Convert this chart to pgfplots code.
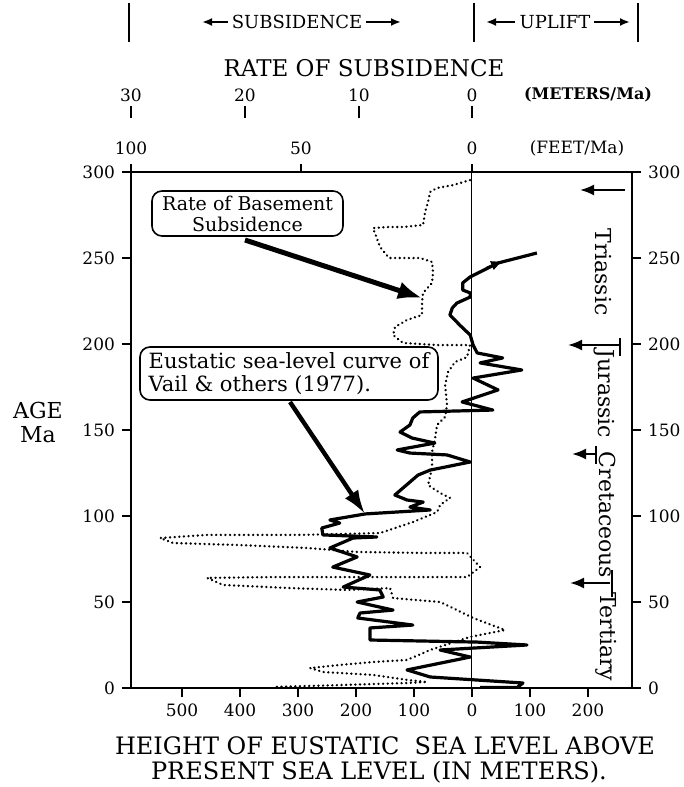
\documentclass[border=0pt]{standalone}
\usepackage{fontspec}
\setmainfont{DejaVu Serif}
\usepackage{pgfplots}
\pgfplotsset{compat=1.18}
\usetikzlibrary{arrows.meta}

\begin{document}
\begin{tikzpicture}
\path[use as bounding box] (-65.5pt,-49.5pt) rectangle (276.5pt,344pt);

% sea level (bottom scale, metres; left = above present)
\begin{axis}[
  width=250.5pt, height=258pt, scale only axis,
  xmin=-276, xmax=588, x dir=reverse,
  ymin=0, ymax=300,
  xtick={-200,-100,...,500},
  xticklabels={200,100,0,100,200,300,400,500},
  ytick={0,50,...,300},
  xtick pos=bottom, ytick pos=left,
  tick align=outside,
  major tick length=4.5pt,
  every tick/.style={black, line width=1pt},
  axis line style={line width=1.1pt},
  ticklabel style={font=\fontsize{8.5}{10}\selectfont},
  /pgf/number format/assume math mode=true,
]
\addplot[black, line width=0.5pt] coordinates {(0,0) (0,300)};
% Vail et al. (1977) curve
\addplot[black, line width=1.6pt, line join=round] coordinates {
(-112,252.9) (-45,247.1) (-17,242.4) (3,239.0) (16,235.5) (16,231.4)
(3,229.7) (3,227.3) (26,223.8) (34,220.9) (38,216.9) (21,211.0)
(3,205.2) (-2,199.4) (-9,194.8) (-53,191.9) (-14,189.0) (-86,184.9)
(-2,180.2) (-45,173.3) (17,166.3) (-36,161.6) (90,160.5) (102,157.0)
(107,152.9) (124,148.8) (103,145.3) (64,142.4) (129,138.4) (107,136.6)
(43,135.5) (3,131.4) (72,126.7) (93,123.8) (133,112.2) (112,109.3)
(84,108.1) (107,105.2) (72,103.5) (184,101.2) (245,97.7) (228,95.9)
(259,93.0) (257,89.0) (164,87.8) (205,87.2) (245,81.4) (198,76.2)
(240,70.3) (176,65.7) (222,58.7) (159,57.0) (153,52.9) (198,50.0)
(136,45.3) (193,43.6) (197,40.7) (102,36.6) (176,34.9) (176,27.9)
(-9,26.7) (-95,25.0) (55,22.1) (3,18.0) (112,10.5) (72,6.4)
(-88,2.9) (-78,0.3) (-14,0.3)
};
\end{axis}

% rate of basement subsidence (top scale, m/Ma)
\begin{axis}[
  width=250.5pt, height=258pt, scale only axis,
  xmin=-14.07, xmax=30.0, x dir=reverse,
  ymin=0, ymax=300, hide axis,
]
\addplot[black, line width=1.3pt, dash pattern=on 0.01pt off 2.3pt, line cap=round] coordinates {
(0.18,295.3) (1.67,292.4) (3.08,290.7) (3.69,288.4) (3.87,282.6) (4.13,276.7)
(4.31,269.2) (6.07,268.0) (7.48,268.0) (8.71,267.4) (8.09,256.4) (7.30,250.0)
(4.57,250.0) (3.52,247.7) (3.43,241.9) (3.52,235.5) (4.31,229.7) (4.40,224.4)
(4.40,216.9) (5.72,214.0) (6.77,209.9) (6.95,205.2) (6.07,200.6) (3.08,199.4)
(0.18,199.4) (0.44,192.4) (1.50,189.5) (2.11,183.7) (2.37,176.2) (2.20,164.5)
(2.37,157.6) (3.08,152.9) (3.25,145.3) (3.52,137.2) (3.52,127.9) (3.87,118.0)
(2.81,113.4) (1.93,110.5) (2.81,106.4) (3.08,102.3) (5.19,96.5) (8.09,90.1)
(15.13,89.0) (23.31,89.0) (27.44,87.2) (26.30,84.3) (20.40,83.1) (14.51,81.4)
(10.11,79.1) (4.31,78.5) (0.44,78.5) (-0.70,70.3) (0.44,64.5) (8.71,64.5)
(17.50,64.5) (23.31,64.0) (21.90,59.9) (16.01,58.1) (11.0,57.0) (7.21,58.1)
(6.95,52.3) (2.81,50.0) (1.32,45.3) (-0.09,40.7) (-2.90,33.7) (0.18,29.7)
(3.69,22.1) (5.72,16.3) (8.71,15.1) (11.61,13.4) (14.25,11.6) (13.10,9.3)
(8.71,7.6) (5.72,4.7) (3.96,3.5) (5.72,2.9) (11.61,1.7) (17.50,0.6)
};
\end{axis}

% right-hand age axis
\begin{axis}[
  width=250.5pt, height=258pt, scale only axis,
  xmin=0, xmax=1, ymin=0, ymax=300,
  axis x line=none, axis y line*=right,
  ytick={0,50,...,300},
  tick align=outside,
  major tick length=4.5pt,
  every tick/.style={black, line width=1pt},
  axis line style={line width=1.1pt},
  ticklabel style={font=\fontsize{8.5}{10}\selectfont},
  /pgf/number format/assume math mode=true,
]
\addplot[draw=none] coordinates {(0,0) (1,300)};
\end{axis}

% labels and notes, in pixel units of the reference
\begin{scope}[x=0.5pt, y=-0.5pt, shift={(-65.5pt,344pt)}]
  % header
  \draw[line width=1pt] (129,3) -- (129,42) (474,3) -- (474,42) (638,3) -- (638,42);
  \node[font=\fontsize{9}{10}\selectfont] at (297,22) {SUBSIDENCE};
  \draw[line width=1pt, -{Latex[length=5pt,width=4pt]}] (228,22) -- (202,22);
  \draw[line width=1pt, -{Latex[length=5pt,width=4pt]}] (366,22) -- (401,22);
  \node[font=\fontsize{9}{10}\selectfont] at (555,22) {UPLIFT};
  \draw[line width=1pt, -{Latex[length=5pt,width=4pt]}] (515,22) -- (486,22);
  \draw[line width=1pt, -{Latex[length=5pt,width=4pt]}] (594,22) -- (630,22);
  \node[font=\fontsize{11.5}{12}\selectfont] at (364,68) {RATE OF SUBSIDENCE};
  % m/Ma scale
  \foreach \xx/\lab in {131/30, 245/20, 359/10, 472/0} {
    \node[font=\fontsize{8.5}{10}\selectfont] at (\xx,95) {\lab};
    \draw[line width=1pt] (\xx,106) -- (\xx,118);
  }
  \node[font=\bfseries\fontsize{8}{10}\selectfont] at (588,95) {(METERS/Ma)};
  % ft/Ma scale
  \foreach \xx/\lab in {131/100, 301/50, 472/0} {
    \node[font=\fontsize{8.5}{10}\selectfont] at (\xx,148) {\lab};
    \draw[line width=1pt] (\xx,164) -- (\xx,172);
  }
  \node[font=\fontsize{8.5}{10}\selectfont] at (577,148) {(FEET/Ma)};
  % axis titles
  \node[font=\fontsize{11}{12}\selectfont, align=center] at (38,422) {AGE\\Ma};
  \node[font=\fontsize{12}{13}\selectfont] at (385,746) {HEIGHT OF EUSTATIC\ \ SEA LEVEL ABOVE};
  \node[font=\fontsize{12}{13}\selectfont, anchor=west] at (144,772) {PRESENT SEA LEVEL (IN METERS).};
  % call-outs
  \node[draw, line width=0.8pt, rounded corners=5pt, minimum width=95.5pt, minimum height=22.5pt,
        align=center, font=\fontsize{9.5}{10.5}\selectfont, inner sep=1pt] at (247.5,213.5)
        {Rate of Basement\\Subsidence};
  \draw[line width=2.5pt, -{Latex[length=12pt,width=9pt]}] (245,240) -- (422,298);
  \node[draw, line width=0.8pt, rounded corners=5pt, minimum width=149pt, minimum height=26.5pt,
        align=left, font=\fontsize{10.5}{11.5}\selectfont, inner sep=2pt] at (289,373.5)
        {Eustatic sea-level curve of\\Vail \& others (1977).};
  \draw[line width=2.2pt, -{Latex[length=12pt,width=8pt]}] (290,402) -- (365,514);
  % arrow on curve
  \draw[-{Latex[length=6pt,width=5pt]}, line width=1pt] (486,268) -- (503,261);
  % periods
  \draw[line width=1.1pt, -{Latex[length=7pt,width=5.5pt]}] (625,190) -- (580,190);
  \draw[line width=1.1pt, -{Latex[length=7pt,width=5.5pt]}] (620,345) -- (568,345);
  \draw[line width=1.1pt, -{Latex[length=7pt,width=5.5pt]}] (596,454) -- (572,454);
  \draw[line width=1.1pt, -{Latex[length=7pt,width=5.5pt]}] (610,583) -- (570,583);
  \draw[line width=1.1pt] (620,338) -- (620,356) (596,446) -- (596,464) (612,570) -- (612,597);
  \node[rotate=-90, font=\fontsize{11}{12}\selectfont] at (603,272) {Triassic};
  \node[rotate=-90, font=\fontsize{11}{12}\selectfont] at (604,394) {Jurassic};
  \node[rotate=-90, font=\fontsize{11}{12}\selectfont] at (608,515) {Cretaceous};
  \node[rotate=-90, font=\fontsize{11}{12}\selectfont] at (606,637) {Tertiary};
\end{scope}
\end{tikzpicture}
\end{document}
